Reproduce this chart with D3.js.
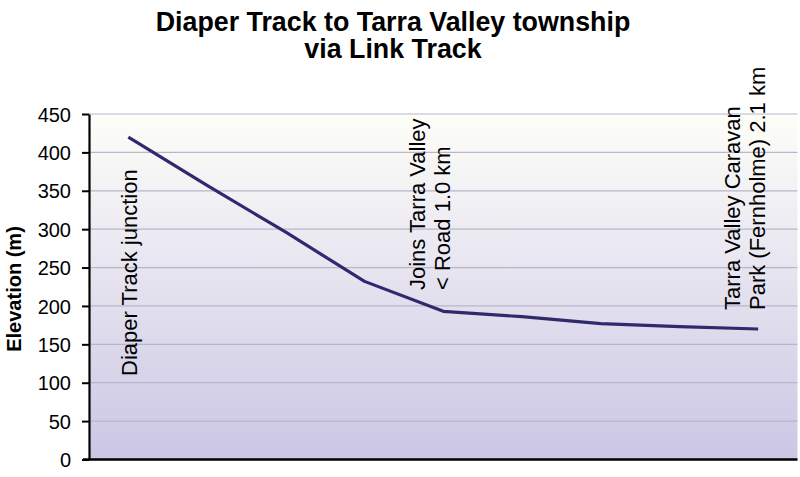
<!DOCTYPE html>
<html>
<head>
<meta charset="utf-8">
<script src="https://cdn.jsdelivr.net/npm/d3@7"></script>
<style>
  body { margin: 0; background: #fff; }
  text { font-family: "Liberation Sans", Arial, sans-serif; }
</style>
</head>
<body>
<div id="wrapper"></div>
<script>
// elevation profile, one point per section of the walk
var points = ["0", "1", "2", "3", "4", "5", "6", "7", "8"];
var elevation = [420, 357, 296, 232, 193, 186, 177, 173, 170];
var yTicks = [0, 50, 100, 150, 200, 250, 300, 350, 400, 450];
var titleLines = ["Diaper Track to Tarra Valley township", "via Link Track"];
var yTitle = "Elevation (m)";
var notePoints = ["0", "4", "8"];
var noteLines = [
  ["Diaper Track junction"],
  ["Joins Tarra Valley", "< Road 1.0 km"],
  ["Tarra Valley Caravan", "Park (Fernholme) 2.1 km"]
];

drawProfile('#wrapper');

function drawProfile(dom_element_to_append_to) {
  var width = 800,
      height = 477;
  var margin = {left: 89, right: 2.5, top: 114, bottom: 17.5};

  var svg = d3.select(dom_element_to_append_to)
    .append("svg")
    .attr("width", width)
    .attr("height", height);

  var x = d3.scalePoint()
    .domain(points)
    .range([margin.left, width - margin.right])
    .padding(0.5);

  var y = d3.scaleLinear()
    .domain([0, 450])
    .range([height - margin.bottom, margin.top]);

  // background gradient
  var grad = svg.append("defs").append("linearGradient")
    .attr("id", "bg")
    .attr("x1", 0).attr("y1", 0).attr("x2", 0).attr("y2", 1);
  grad.append("stop").attr("offset", "0%").attr("stop-color", "#fefef8");
  grad.append("stop").attr("offset", "100%").attr("stop-color", "#cbc6e5");

  svg.append("rect")
    .attr("x", margin.left)
    .attr("y", margin.top - 1)
    .attr("width", width - margin.right - margin.left)
    .attr("height", height - margin.bottom - margin.top + 1)
    .attr("fill", "url(#bg)");

  // grid
  svg.append("g")
    .selectAll("line")
    .data(yTicks.slice(1))
    .enter()
    .append("line")
    .attr("x1", margin.left)
    .attr("x2", width - margin.right)
    .attr("y1", d => y(d))
    .attr("y2", d => y(d))
    .attr("stroke", "#b9b5cb")
    .attr("stroke-width", 1.2);

  // y axis
  var yAxis = svg.append("g")
    .attr("transform", "translate(" + margin.left + ",0)")
    .call(d3.axisLeft(y).tickValues(yTicks).tickSize(7).tickPadding(11).tickSizeOuter(0));
  yAxis.select(".domain").attr("stroke", "#000").attr("stroke-width", 2.2);
  yAxis.selectAll(".tick line").attr("stroke", "#000").attr("stroke-width", 2);
  yAxis.selectAll(".tick text")
    .attr("font-size", 20)
    .attr("fill", "#000")
    .attr("dy", "0.36em")
    .style("font-family", "Liberation Sans, Arial, sans-serif");

  // x axis line
  svg.append("line")
    .attr("x1", margin.left - 6)
    .attr("x2", width - margin.right)
    .attr("y1", y(0))
    .attr("y2", y(0))
    .attr("stroke", "#000")
    .attr("stroke-width", 2.4);

  // profile line
  var line = d3.line()
    .x((d, i) => x(points[i]))
    .y(d => y(d));

  svg.append("path")
    .datum(elevation)
    .attr("d", line)
    .attr("fill", "none")
    .attr("stroke", "#2f2a6e")
    .attr("stroke-width", 3.2)
    .attr("stroke-linejoin", "round");

  // notes, rotated, reading upwards
  var noteBase = [376, 290, 310];
  var noteShift = [9, 7, 7];
  notePoints.forEach(function(p, k) {
    var lines = noteLines[k];
    var t = svg.append("text")
      .attr("transform", "translate(" + (x(p) + noteShift[k]) + "," + noteBase[k] + ") rotate(-90)")
      .attr("font-size", 22)
      .attr("fill", "#000");
    lines.forEach(function(s, j) {
      t.append("tspan")
        .attr("x", 0)
        .attr("y", (j - (lines.length - 1)) * 25)
        .text(s);
    });
  });

  // title
  svg.append("g")
    .selectAll("text")
    .data(titleLines)
    .enter()
    .append("text")
    .attr("x", 393)
    .attr("y", (d, i) => 31 + i * 27)
    .attr("text-anchor", "middle")
    .attr("font-size", 26.8)
    .attr("font-weight", "bold")
    .text(d => d);

  // y title
  svg.append("text")
    .attr("transform", "translate(21,289) rotate(-90)")
    .attr("text-anchor", "middle")
    .attr("font-size", 20)
    .attr("font-weight", "bold")
    .text(yTitle);
}
</script>
</body>
</html>
